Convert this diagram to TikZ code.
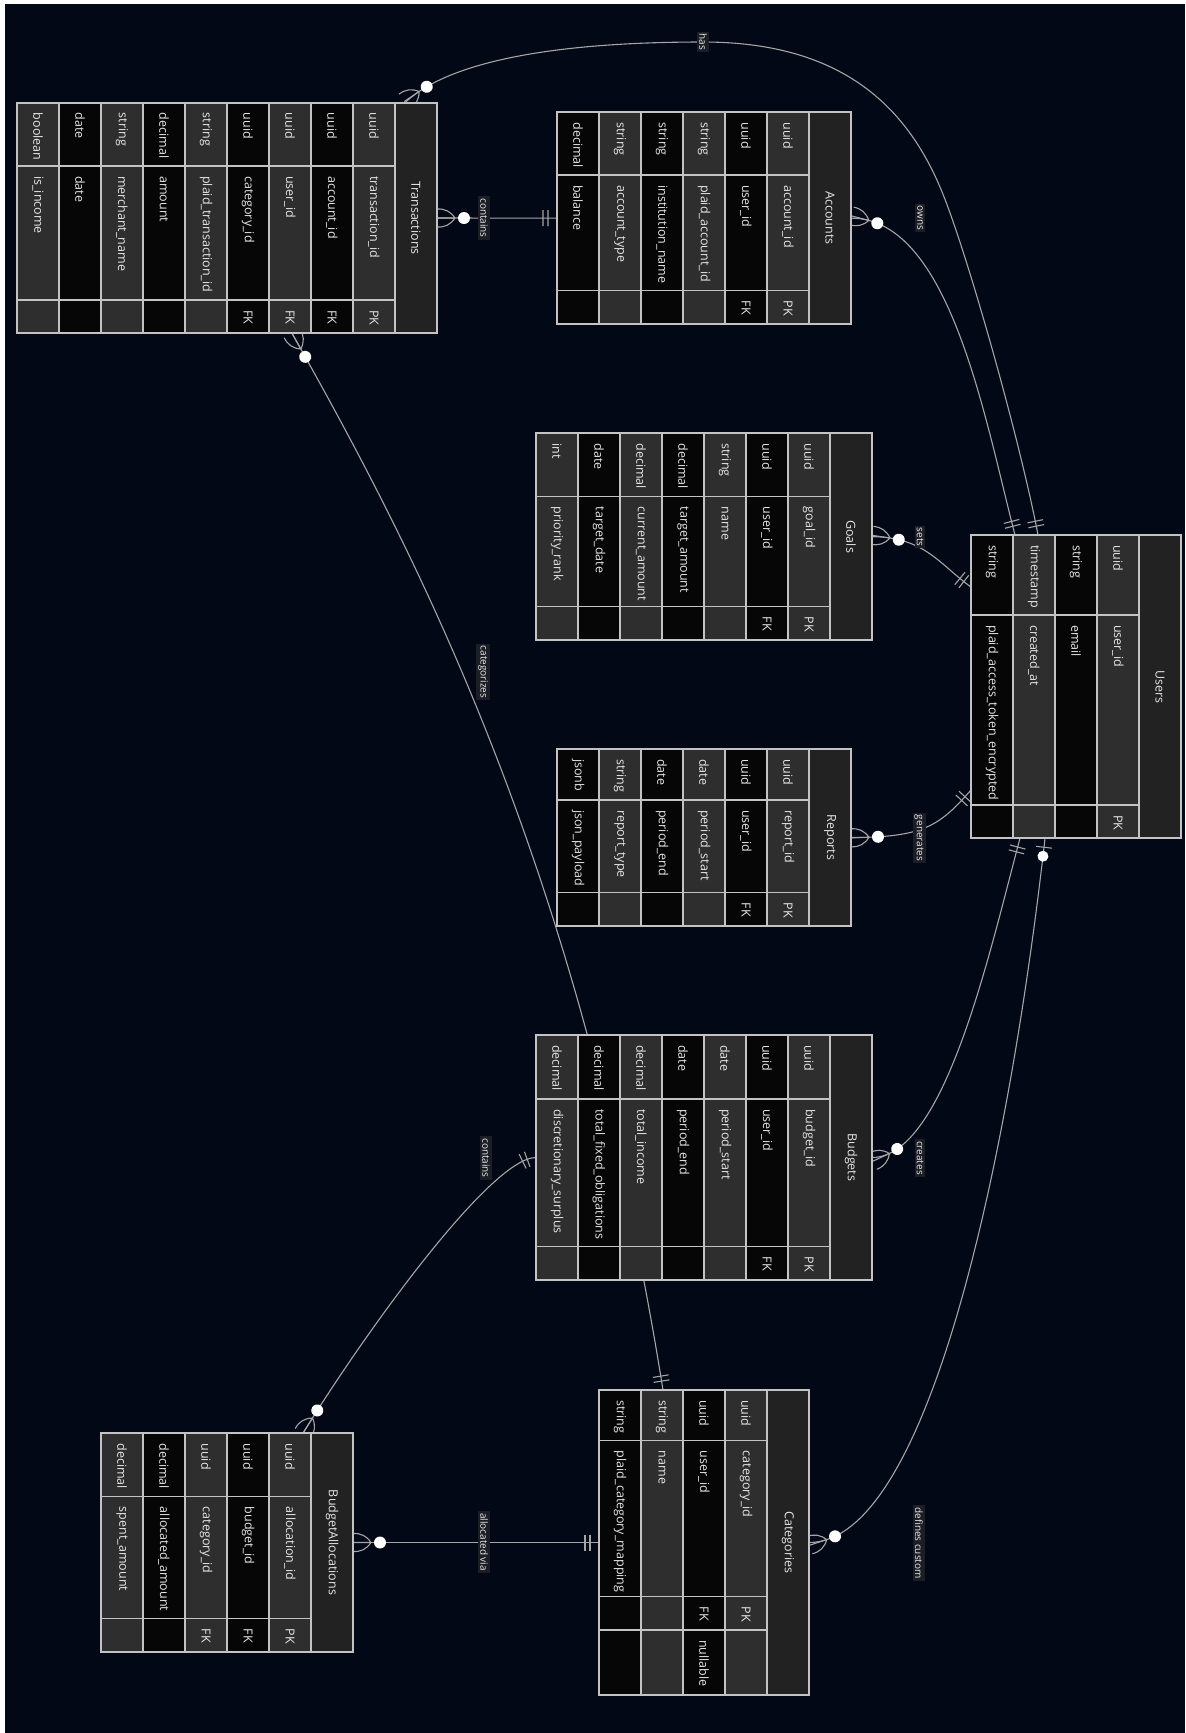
\documentclass[tikz,border=0pt]{standalone}
\usepackage{fontspec}
\setmainfont{Open Sans}
\usepackage{tikz}
\usetikzlibrary{arrows.meta, positioning, calc, decorations.markings}
\definecolor{bgnavy}{RGB}{3, 8, 22}
\definecolor{rowgray}{RGB}{46, 46, 46}
\definecolor{rowblack}{RGB}{6, 6, 6}
\definecolor{headgray}{RGB}{34, 34, 34}
\definecolor{gridgray}{RGB}{195, 195, 195}
\definecolor{linkgray}{RGB}{165, 165, 165}
\definecolor{labelbox}{RGB}{28, 30, 38}
\definecolor{textlight}{RGB}{230, 230, 230}
\pgfdeclarelayer{canvas}
\pgfdeclarelayer{links}
\pgfsetlayers{canvas,links,main}

% #1 name, #2 left, #3 right, #4 top, #5 end of types, #6 end of names, #7 bottom, #8 title, #9 rows
\newcommand{\erentity}[9]{%
  \pgfmathsetmacro\ew{#3-#2}\pgfmathsetmacro\eh{#7-#4}%
  \pgfmathsetmacro\ecx{(#2+#3)/2}\pgfmathsetmacro\ecy{(#4+#7)/2}%
  \node[entitybox, minimum width=\ew, minimum height=\eh] (#1) at (\ecx,\ecy) {};
  \draw[cell, fill=headgray] (#3-42,#4) rectangle (#3,#7);
  \node[headtext] at (#3-21,\ecy) {#8};
  \foreach \ty/\nm/\ky/\cm [count=\i] in {#9} {
    \ifodd\i \def\rc{rowgray}\else \def\rc{rowblack}\fi
    \pgfmathsetmacro\xa{#3-42*(\i+1)}
    \draw[cell, fill=\rc] (\xa,#4) rectangle (\xa+42,#5);
    \draw[cell, fill=\rc] (\xa,#5) rectangle (\xa+42,#6);
    \draw[cell, fill=\rc] (\xa,#6) rectangle (\xa+42,#6+33.3);
    \node[celltext] at (\xa+21,#4+10) {\ty};
    \node[celltext] at (\xa+21,#5+10) {\nm};
    \node[celltext] at (\xa+21,#6+10) {\ky};
    \ifdim #7pt>\dimexpr#6pt+34pt\relax
      \draw[cell, fill=\rc] (\xa,#6+33.3) rectangle (\xa+42,#7);
      \node[celltext] at (\xa+21,#6+43.3) {\cm};
    \fi
  }
  \draw[outline] (#1.north west) rectangle (#1.south east);
}

\begin{document}
\begin{tikzpicture}[x=1pt, y=-1pt,
  entitybox/.style={inner sep=0pt, outer sep=0pt},
  cell/.style={draw=gridgray, line width=1.1pt},
  outline/.style={draw=gridgray, line width=1.8pt},
  celltext/.style={rotate=-90, anchor=west, inner sep=0pt, text=textlight, font=\fontsize{12.5}{14}\selectfont},
  headtext/.style={rotate=-90, inner sep=0pt, text=textlight, font=\fontsize{12.5}{14}\selectfont},
  link/.style={draw=linkgray, line width=1.1pt},
  linklabel/.style={rotate=-90, fill=labelbox, inner sep=2pt, text=textlight, font=\fontsize{10}{12}\selectfont},
  oneend/.style={postaction={decorate, decoration={markings,
    mark=at position 9pt with {\draw[link] (0,-8pt) -- (0,8pt);},
    mark=at position 14pt with {\draw[link] (0,-8pt) -- (0,8pt);}}}},
  zerooneend/.style={postaction={decorate, decoration={markings,
    mark=at position 9pt with {\draw[link] (0,-8pt) -- (0,8pt);},
    mark=at position 18pt with {\fill[white] (0,0) circle (5.5pt);}}}},
  manyend/.style={postaction={decorate, decoration={markings,
    mark=at position -27pt with {\fill[white] (0,0) circle (6pt);},
    mark=at position -18pt with {\draw[link] (0,0) -- (18pt,0) (0,0) to[bend left=30] (18pt,9pt) (0,0) to[bend right=30] (18pt,-9pt);}}}}]

  \begin{pgfonlayer}{canvas}
    \fill[white] (0,0) rectangle (1186,1733);
    \fill[bgnavy] (5,4) rectangle (1185,1733);
  \end{pgfonlayer}
  \useasboundingbox (0,0) rectangle (1186,1733);

  \erentity{trans}{17}{437}{102.7}{166}{300}{333.3}{Transactions}{uuid/transaction\_id/PK/, uuid/account\_id/FK/, uuid/user\_id/FK/, uuid/category\_id/FK/, string/plaid\_transaction\_id//, decimal/amount//, string/merchant\_name//, date/date//, boolean/is\_income//}
  \erentity{accounts}{557}{851}{112.3}{175}{290.7}{324}{Accounts}{uuid/account\_id/PK/, uuid/user\_id/FK/, string/plaid\_account\_id//, string/institution\_name//, string/account\_type//, decimal/balance//}
  \erentity{goals}{536}{872}{433.3}{496.7}{606.7}{640}{Goals}{uuid/goal\_id/PK/, uuid/user\_id/FK/, string/name//, decimal/target\_amount//, decimal/current\_amount//, date/target\_date//, int/priority\_rank//}
  \erentity{users}{971}{1181}{535}{615}{805}{838.3}{Users}{uuid/user\_id/PK/, string/email//, timestamp/created\_at//, string/plaid\_access\_token\_encrypted//}
  \erentity{reports}{557}{851}{749}{800}{892.7}{926}{Reports}{uuid/report\_id/PK/, uuid/user\_id/FK/, date/period\_start//, date/period\_end//, string/report\_type//, jsonb/json\_payload//}
  \erentity{budgets}{536}{872}{1035}{1099}{1246.7}{1280}{Budgets}{uuid/budget\_id/PK/, uuid/user\_id/FK/, date/period\_start//, date/period\_end//, decimal/total\_income//, decimal/total\_fixed\_obligations//, decimal/discretionary\_surplus//}
  \erentity{categories}{599}{809}{1390}{1440.7}{1596.7}{1695}{Categories}{uuid/category\_id/PK/, uuid/user\_id/FK/nullable, string/name//, string/plaid\_category\_mapping//}
  \erentity{allocs}{101}{353}{1433.3}{1496.7}{1618.4}{1651.7}{BudgetAllocations}{uuid/allocation\_id/PK/, uuid/budget\_id/FK/, uuid/category\_id/FK/, decimal/allocated\_amount//, decimal/spent\_amount//}

  \begin{pgfonlayer}{links}
    % relations out of Users
    \draw[link, oneend, manyend] ([xshift=67pt]users.north west) .. controls (1020,440) and (965,245) .. (940,187)
      .. controls (905,105) and (840,42) .. (703,42) .. controls (560,42) and (450,60) .. ([xshift=-32pt]trans.north east);
    \draw[link, oneend, manyend] ([xshift=44pt]users.north west) .. controls (985,420) and (950,218) .. (accounts.east);
    \draw[link, oneend, manyend] ([yshift=-52pt]users.north west) .. controls (940,565) and (925,537) .. (goals.east);
    \draw[link, oneend, manyend] ([yshift=-255pt]users.north west) .. controls (940,825) and (925,837.5) .. (reports.east);
    \draw[link, oneend, manyend] ([xshift=49pt]users.south west) .. controls (990,950) and (945,1157.5) .. (budgets.east);
    \draw[link, zerooneend, manyend] ([xshift=74pt]users.south west) .. controls (1010,1150) and (930,1542.5) .. (categories.east);
    % the rest
    \draw[link, oneend, manyend] (accounts.west) -- (trans.east);
    \draw[link, oneend, manyend] ([xshift=64pt]categories.north west) .. controls (580,870) and (420,560) .. ([xshift=275pt]trans.south west);
    \draw[link, oneend, manyend] (budgets.west) .. controls (490,1157.5) and (360,1340) .. ([xshift=-50pt]allocs.north east);
    \draw[link, oneend, manyend] (categories.west) -- (allocs.east);

    \node[linklabel] (lhas) at (703,42) {has};
    \node[linklabel] (lowns) at (920,218) {owns};
    \node[linklabel] (lcontains) at (484,218) {contains};
    \node[linklabel] (lsets) at (920,537) {sets};
    \node[linklabel] (lgenerates) at (919,838) {generates};
    \node[linklabel] (lcreates) at (920,1158) {creates};
    \node[linklabel] (lcategorizes) at (483,672) {categorizes};
    \node[linklabel] (lcontainsb) at (486,1158) {contains};
    \node[linklabel] (lallocated) at (484,1542) {allocated via};
    \node[linklabel] (ldefines) at (919,1543) {defines custom};
  \end{pgfonlayer}
\end{tikzpicture}
\end{document}
